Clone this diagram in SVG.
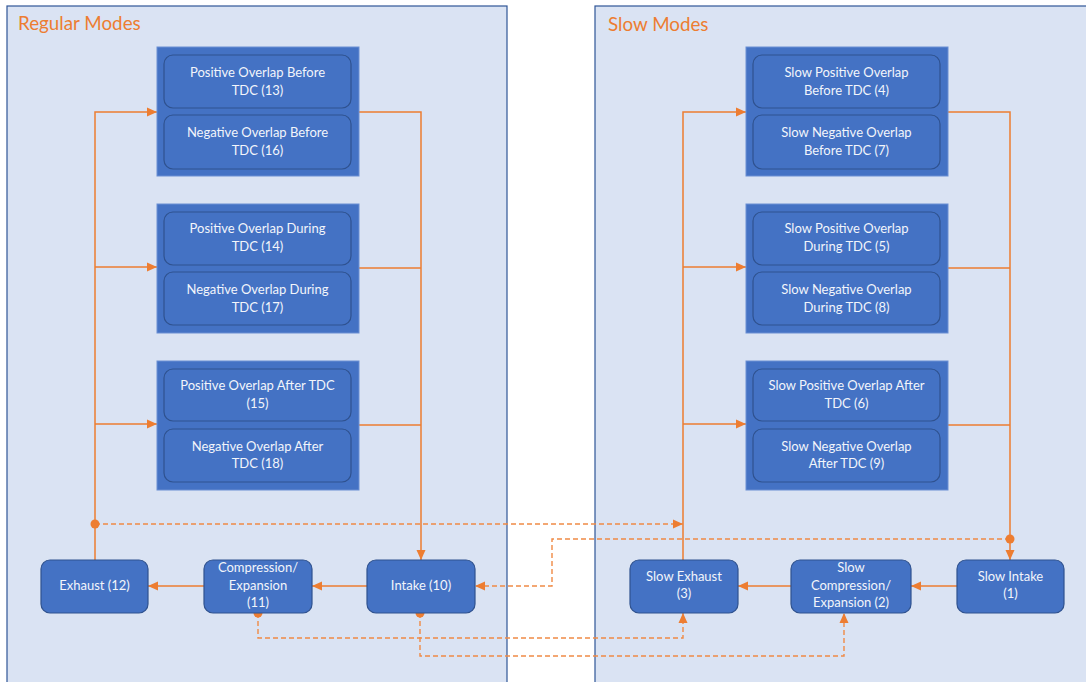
<svg xmlns="http://www.w3.org/2000/svg" width="1086" height="682" viewBox="0 0 1086 682">
<style>
.panel{fill:#DAE3F3;stroke:#2F5597;stroke-width:1.2}
.title{font-family:Lato,"Liberation Sans",sans-serif;font-size:18.8px;fill:#ED7D31}
.grp{fill:#4472C4;stroke:#6A8FD3;stroke-width:1}
.inner{fill:#4472C4;stroke:#2F528F;stroke-width:1.2}
.node{fill:#4472C4;stroke:#2F528F;stroke-width:1.2}
.t{font-family:Lato,"Liberation Sans",sans-serif;font-size:13px;fill:#F2F5FB;text-anchor:middle}
.s{fill:none;stroke:#ED7D31;stroke-width:1.5}
.d{fill:none;stroke:#F08A45;stroke-width:1.4;stroke-dasharray:5 3}
.dot{fill:#ED7D31}
</style>
<defs>
<marker id="ah" markerUnits="userSpaceOnUse" markerWidth="12" markerHeight="12" viewBox="0 0 12 12" refX="11" refY="6" orient="auto">
<path d="M1,1.5 L11,6 L1,10.5 Z" fill="#ED7D31"/>
</marker>
</defs>
<rect width="1086" height="682" fill="#FFFFFF"/>
<g id="panel-regular">
<rect class="panel" x="7" y="6" width="500" height="690"/>
<text class="title" x="18" y="30">Regular Modes</text>
</g>
<g id="panel-slow">
<rect class="panel" x="595" y="6" width="500" height="690"/>
<text class="title" x="608" y="31">Slow Modes</text>
</g>
<g id="connectors">
<path class="s" d="M95,560 V112 H157" marker-end="url(#ah)"/>
<path class="s" d="M95,267 H157" marker-end="url(#ah)"/>
<path class="s" d="M95,424 H157" marker-end="url(#ah)"/>
<path class="s" d="M359,112 H421 V560" marker-end="url(#ah)"/>
<path class="s" d="M359,268 H421"/>
<path class="s" d="M359,425 H421"/>
<path class="s" d="M367,586 H312" marker-end="url(#ah)"/>
<path class="s" d="M204,586 H148" marker-end="url(#ah)"/>
<path class="s" d="M683,560 V112 H746" marker-end="url(#ah)"/>
<path class="s" d="M683,267 H746" marker-end="url(#ah)"/>
<path class="s" d="M683,424 H746" marker-end="url(#ah)"/>
<path class="s" d="M948,112 H1010 V560" marker-end="url(#ah)"/>
<path class="s" d="M948,268 H1010"/>
<path class="s" d="M948,425 H1010"/>
<path class="s" d="M957,586 H911" marker-end="url(#ah)"/>
<path class="s" d="M791,586 H738" marker-end="url(#ah)"/>
<path class="d" d="M95,524 H683" marker-end="url(#ah)"/>
<path class="d" d="M1010,539 H552 V586 H475" marker-end="url(#ah)"/>
<path class="d" d="M258,613 V638 H683 V613" marker-end="url(#ah)"/>
<path class="d" d="M420,613 V656 H844 V613" marker-end="url(#ah)"/>
<circle class="dot" cx="95" cy="524" r="4.5"/>
<circle class="dot" cx="1010" cy="539" r="4.5"/>
<circle class="dot" cx="258" cy="613" r="4.5"/>
<circle class="dot" cx="420" cy="613" r="4.5"/>
</g>
<g id="group-before">
<rect class="grp" x="157" y="47" width="202" height="129"/>
<g id="n13"><rect class="inner" x="164" y="55" width="187" height="53" rx="9"/>
<text class="t" x="257.5" y="77">Positive Overlap Before</text><text class="t" x="257.5" y="95">TDC (13)</text></g>
<g id="n16"><rect class="inner" x="164" y="115" width="187" height="54" rx="9"/>
<text class="t" x="257.5" y="137">Negative Overlap Before</text><text class="t" x="257.5" y="155">TDC (16)</text></g>
</g>
<g id="group-during">
<rect class="grp" x="157" y="204" width="202" height="129"/>
<g id="n14"><rect class="inner" x="164" y="212" width="187" height="53" rx="9"/>
<text class="t" x="257.5" y="233">Positive Overlap During</text><text class="t" x="257.5" y="251">TDC (14)</text></g>
<g id="n17"><rect class="inner" x="164" y="272" width="187" height="53" rx="9"/>
<text class="t" x="257.5" y="294">Negative Overlap During</text><text class="t" x="257.5" y="312">TDC (17)</text></g>
</g>
<g id="group-after">
<rect class="grp" x="157" y="361" width="202" height="129"/>
<g id="n15"><rect class="inner" x="164" y="369" width="187" height="52" rx="9"/>
<text class="t" x="257.5" y="390">Positive Overlap After TDC</text><text class="t" x="257.5" y="408">(15)</text></g>
<g id="n18"><rect class="inner" x="164" y="429" width="187" height="53" rx="9"/>
<text class="t" x="257.5" y="451">Negative Overlap After</text><text class="t" x="257.5" y="468">TDC (18)</text></g>
</g>
<g id="group-slow-before">
<rect class="grp" x="746" y="47" width="202" height="129"/>
<g id="n4"><rect class="inner" x="753" y="55" width="187" height="53" rx="9"/>
<text class="t" x="846.5" y="77">Slow Positive Overlap</text><text class="t" x="846.5" y="95">Before TDC (4)</text></g>
<g id="n7"><rect class="inner" x="753" y="115" width="187" height="54" rx="9"/>
<text class="t" x="846.5" y="137">Slow Negative Overlap</text><text class="t" x="846.5" y="155">Before TDC (7)</text></g>
</g>
<g id="group-slow-during">
<rect class="grp" x="746" y="204" width="202" height="129"/>
<g id="n5"><rect class="inner" x="753" y="212" width="187" height="53" rx="9"/>
<text class="t" x="846.5" y="233">Slow Positive Overlap</text><text class="t" x="846.5" y="251">During TDC (5)</text></g>
<g id="n8"><rect class="inner" x="753" y="272" width="187" height="53" rx="9"/>
<text class="t" x="846.5" y="294">Slow Negative Overlap</text><text class="t" x="846.5" y="312">During TDC (8)</text></g>
</g>
<g id="group-slow-after">
<rect class="grp" x="746" y="361" width="202" height="129"/>
<g id="n6"><rect class="inner" x="753" y="369" width="187" height="52" rx="9"/>
<text class="t" x="846.5" y="390">Slow Positive Overlap After</text><text class="t" x="846.5" y="408">TDC (6)</text></g>
<g id="n9"><rect class="inner" x="753" y="429" width="187" height="53" rx="9"/>
<text class="t" x="846.5" y="451">Slow Negative Overlap</text><text class="t" x="846.5" y="468">After TDC (9)</text></g>
</g>
<g id="n12"><rect class="node" x="41" y="560" width="107" height="53" rx="9"/>
<text class="t" x="94.5" y="590">Exhaust (12)</text></g>
<g id="n11"><rect class="node" x="204" y="560" width="108" height="53" rx="9"/>
<text class="t" x="258" y="572">Compression/</text><text class="t" x="258" y="590">Expansion</text><text class="t" x="258" y="607">(11)</text></g>
<g id="n10"><rect class="node" x="367" y="560" width="108" height="53" rx="9"/>
<text class="t" x="421" y="590">Intake (10)</text></g>
<g id="n3"><rect class="node" x="630" y="560" width="108" height="53" rx="9"/>
<text class="t" x="684" y="581">Slow Exhaust</text><text class="t" x="684" y="598">(3)</text></g>
<g id="n2"><rect class="node" x="791" y="560" width="120" height="53" rx="9"/>
<text class="t" x="851" y="572">Slow</text><text class="t" x="851" y="590">Compression/</text><text class="t" x="851" y="607">Expansion (2)</text></g>
<g id="n1"><rect class="node" x="957" y="560" width="107" height="53" rx="9"/>
<text class="t" x="1010.5" y="581">Slow Intake</text><text class="t" x="1010.5" y="598">(1)</text></g>
</svg>
